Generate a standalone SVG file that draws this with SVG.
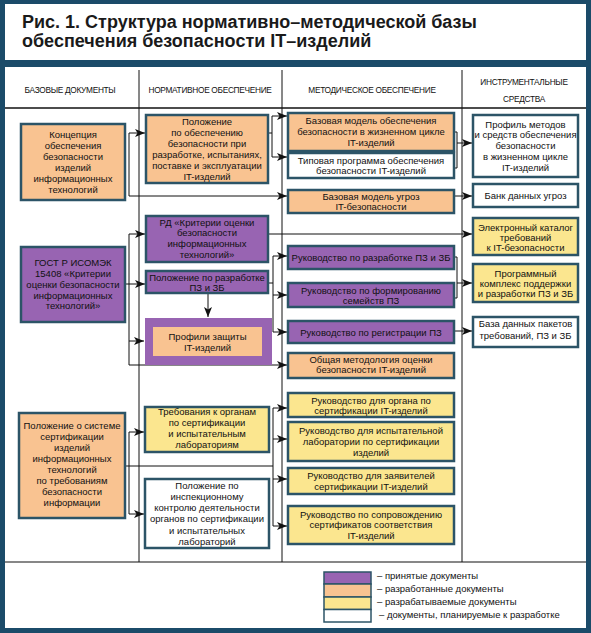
<svg xmlns="http://www.w3.org/2000/svg" width="591" height="633" viewBox="0 0 591 633">
<defs>
<style>
.frame{fill:#1b4b69}
.bg{fill:#ffffff}
.grid{stroke:#111;stroke-width:1;fill:none}
.hdr{font-family:"Liberation Sans",Arial,sans-serif;font-size:8.3px;fill:#111;text-anchor:middle;letter-spacing:-0.3px}
.title{font-family:"Liberation Sans",Arial,sans-serif;font-size:18px;font-weight:bold;fill:#1a1a1a}
.box{stroke:#2c5467;stroke-width:2.5}
.p{fill:#9864b2}
.o{fill:#f9c391}
.y{fill:#fbe68f}
.w{fill:#ffffff}
.t{font-family:"Liberation Sans",Arial,sans-serif;font-size:9.5px;fill:#111;text-anchor:middle}
.lg{font-family:"Liberation Sans",Arial,sans-serif;font-size:9.5px;fill:#111}
.lgbox{stroke:#2c5467;stroke-width:1.5}
.c{stroke:#111;stroke-width:1;fill:none}
.a{stroke:#111;stroke-width:1;fill:none;marker-end:url(#arr)}
</style>
<marker id="arr" markerUnits="userSpaceOnUse" markerWidth="10" markerHeight="8" refX="10" refY="4" orient="auto">
<path d="M0,0 L10,4 L0,8 L2.5,4 z" fill="#111"/>
</marker>
</defs>

<g id="frame">
<rect class="frame" x="0" y="0" width="591" height="633"/>
<rect class="bg" x="5" y="4" width="581" height="56"/>
<rect class="bg" x="5" y="67" width="581" height="561"/>
<text class="title" x="22" y="28">Рис. 1. Структура нормативно–методической базы</text>
<text class="title" x="22" y="47">обеспечения безопасности IT–изделий</text>
<line class="grid" x1="5" y1="108" x2="586" y2="108" style="stroke-width:1.5"/>
<line class="grid" x1="5" y1="562" x2="586" y2="562" style="stroke-width:1.2"/>
<line class="grid" x1="139" y1="70" x2="139" y2="562"/>
<line class="grid" x1="282" y1="70" x2="282" y2="562"/>
<line class="grid" x1="462" y1="70" x2="462" y2="562"/>
<text class="hdr" x="70" y="93">БАЗОВЫЕ ДОКУМЕНТЫ</text>
<text class="hdr" x="210" y="93">НОРМАТИВНОЕ ОБЕСПЕЧЕНИЕ</text>
<text class="hdr" x="372" y="93">МЕТОДИЧЕСКОЕ ОБЕСПЕЧЕНИЕ</text>
<text class="hdr" x="524" y="85">ИНСТРУМЕНТАЛЬНЫЕ</text>
<text class="hdr" x="524" y="102">СРЕДСТВА</text>
</g>

<g id="connectors">
<path class="a" d="M129,196 V133 H145"/>
<path class="a" d="M129,196 H287"/>
<path class="c" d="M268,133 H272"/>
<path class="a" d="M272,133 V116 H287"/>
<path class="a" d="M272,133 V157 H287"/>
<path class="c" d="M454,132 H457 V168 H454"/>
<path class="a" d="M457,143 H472"/>
<path class="a" d="M454,196 H472"/>
<path class="a" d="M268,234 H472"/>
<path class="a" d="M125,284 H145"/>
<path class="a" d="M129,284 V234 H145"/>
<path class="a" d="M129,284 V341 H144"/>
<path class="a" d="M129,341 V365 H287"/>
<path class="c" d="M268,283 H273"/>
<path class="a" d="M273,283 V256 H287"/>
<path class="a" d="M273,283 V295 H287"/>
<path class="a" d="M273,295 V332 H287"/>
<path class="c" d="M454,257 H457 V298 H454"/>
<path class="a" d="M457,283 H472"/>
<path class="a" d="M454,331 H472"/>
<path class="a" d="M208,294 V317"/>
<path class="c" d="M125,466 H273"/>
<path class="a" d="M129,466 V432 H144"/>
<path class="a" d="M129,466 V514 H144"/>
<path class="c" d="M273,408 V526"/>
<path class="a" d="M273,408 H287"/>
<path class="a" d="M273,439 H287"/>
<path class="a" d="M273,479 H287"/>
<path class="a" d="M273,526 H287"/>
</g>

<g id="n-koncepciya">
<rect class="box o" x="21" y="124" width="104" height="76"/>
<text class="t"><tspan x="73" y="137.5">Концепция</tspan><tspan x="73" y="148.6">обеспечения</tspan><tspan x="73" y="159.7">безопасности</tspan><tspan x="73" y="170.8">изделий</tspan><tspan x="73" y="181.9">информационных</tspan><tspan x="73" y="193">технологий</tspan></text>
</g>
<g id="n-gost">
<rect class="box p" x="21" y="247" width="104" height="75"/>
<text class="t"><tspan x="73" y="265.5">ГОСТ Р ИСОМЭК</tspan><tspan x="73" y="276.5">15408 «Критерии</tspan><tspan x="73" y="287.5">оценки безопасности</tspan><tspan x="73" y="298.5">информационных</tspan><tspan x="73" y="309">технологий»</tspan></text>
</g>
<g id="n-polozhenie-sistema">
<rect class="box o" x="19" y="413" width="106" height="105"/>
<text class="t"><tspan x="72" y="428.5">Положение о системе</tspan><tspan x="72" y="439.6">сертификации</tspan><tspan x="72" y="450.7">изделий</tspan><tspan x="72" y="461.8">информационных</tspan><tspan x="72" y="472.9">технологий</tspan><tspan x="72" y="484">по требованиям</tspan><tspan x="72" y="495.1">безопасности</tspan><tspan x="72" y="506.2">информации</tspan></text>
</g>

<g id="n-polozhenie-obesp">
<rect class="box o" x="146" y="115" width="122" height="68"/>
<text class="t"><tspan x="207" y="124.5">Положение</tspan><tspan x="207" y="135.5">по обеспечению</tspan><tspan x="207" y="146.5">безопасности при</tspan><tspan x="207" y="157.5">разработке, испытаниях,</tspan><tspan x="207" y="168.5">поставке и эксплуатации</tspan><tspan x="207" y="179.5">IT-изделий</tspan></text>
</g>
<g id="n-rd">
<rect class="box p" x="146" y="216" width="122" height="46"/>
<text class="t"><tspan x="207" y="225.5">РД «Критерии оценки</tspan><tspan x="207" y="236.2">безопасности</tspan><tspan x="207" y="246.9">информационных</tspan><tspan x="207" y="257.6">технологий»</tspan></text>
</g>
<g id="n-polozhenie-razr">
<rect class="box p" x="146" y="271" width="122" height="22"/>
<text class="t"><tspan x="207" y="281">Положение по разработке</tspan><tspan x="207" y="290.5">ПЗ и ЗБ</tspan></text>
</g>
<g id="n-profili">
<rect class="p" x="145" y="318" width="127" height="47"/>
<rect class="o" x="153" y="327" width="109" height="29"/>
<text class="t"><tspan x="207.5" y="339.5">Профили защиты</tspan><tspan x="207.5" y="350.5">IT-изделий</tspan></text>
</g>
<g id="n-trebovaniya">
<rect class="box y" x="145" y="407" width="124" height="45"/>
<text class="t"><tspan x="207" y="414.5">Требования к органам</tspan><tspan x="207" y="425.5">по сертификации</tspan><tspan x="207" y="436.5">и испытательным</tspan><tspan x="207" y="447.5">лабораториям</tspan></text>
</g>
<g id="n-polozhenie-insp">
<rect class="box w" x="145" y="479" width="124" height="69"/>
<text class="t"><tspan x="207" y="488.5">Положение по</tspan><tspan x="207" y="499.8">инспекционному</tspan><tspan x="207" y="511.1">контролю деятельности</tspan><tspan x="207" y="522.4">органов по сертификации</tspan><tspan x="207" y="533.7">и испытательных</tspan><tspan x="207" y="545">лабораторий</tspan></text>
</g>

<g id="m-bazovaya-model">
<rect class="box o" x="288" y="113" width="166" height="38"/>
<text class="t"><tspan x="371" y="123.5">Базовая модель обеспечения</tspan><tspan x="371" y="134.5">безопасности в жизненном цикле</tspan><tspan x="371" y="145.5">IT-изделий</tspan></text>
</g>
<g id="m-tipovaya">
<rect class="box w" x="288" y="153" width="166" height="25"/>
<text class="t"><tspan x="371" y="164">Типовая программа обеспечения</tspan><tspan x="371" y="174.2">безопасности IT-изделий</tspan></text>
</g>
<g id="m-ugroz">
<rect class="box o" x="288" y="190" width="166" height="23"/>
<text class="t"><tspan x="371" y="199.5">Базовая модель угроз</tspan><tspan x="371" y="210">IT-безопасности</tspan></text>
</g>
<g id="m-ruk-razr">
<rect class="box p" x="288" y="246" width="166" height="23"/>
<text class="t" x="371" y="260.5">Руководство по разработке ПЗ и ЗБ</text>
</g>
<g id="m-ruk-form">
<rect class="box p" x="288" y="283" width="166" height="24"/>
<text class="t"><tspan x="371" y="293.5">Руководство по формированию</tspan><tspan x="371" y="304">семейств ПЗ</tspan></text>
</g>
<g id="m-ruk-reg">
<rect class="box p" x="288" y="321" width="166" height="22"/>
<text class="t" x="371" y="335.5">Руководство по регистрации ПЗ</text>
</g>
<g id="m-obshaya">
<rect class="box o" x="288" y="353" width="166" height="25"/>
<text class="t"><tspan x="371" y="362.5">Общая методология оценки</tspan><tspan x="371" y="372.7">безопасности IT-изделий</tspan></text>
</g>
<g id="m-ruk-organ">
<rect class="box y" x="288" y="393" width="166" height="24"/>
<text class="t"><tspan x="371" y="403.5">Руководство для органа по</tspan><tspan x="371" y="413.5">сертификации IT-изделий</tspan></text>
</g>
<g id="m-ruk-lab">
<rect class="box y" x="288" y="422" width="166" height="39"/>
<text class="t"><tspan x="371" y="433.5">Руководство для испытательной</tspan><tspan x="371" y="444.5">лаборатории по сертификации</tspan><tspan x="371" y="455.5">изделий</tspan></text>
</g>
<g id="m-ruk-zayav">
<rect class="box y" x="288" y="468" width="166" height="26"/>
<text class="t"><tspan x="371" y="478.5">Руководство для заявителей</tspan><tspan x="371" y="489.5">сертификации IT-изделий</tspan></text>
</g>
<g id="m-ruk-sopr">
<rect class="box y" x="288" y="506" width="166" height="38"/>
<text class="t"><tspan x="371" y="517.5">Руководство по сопровождению</tspan><tspan x="371" y="528.3">сертификатов соответствия</tspan><tspan x="371" y="539">IT-изделий</tspan></text>
</g>

<g id="t-profil">
<rect class="box w" x="473" y="115" width="105" height="62"/>
<text class="t"><tspan x="525.5" y="127.5">Профиль методов</tspan><tspan x="525.5" y="138">и средств обеспечения</tspan><tspan x="525.5" y="148.5">безопасности</tspan><tspan x="525.5" y="159.5">в жизненном цикле</tspan><tspan x="525.5" y="170.5">IT-изделий</tspan></text>
</g>
<g id="t-bank">
<rect class="box w" x="473" y="184" width="105" height="23"/>
<text class="t" x="525.5" y="198.5">Банк данных угроз</text>
</g>
<g id="t-katalog">
<rect class="box y" x="473" y="218" width="105" height="37"/>
<text class="t"><tspan x="525.5" y="230.5">Электронный каталог</tspan><tspan x="525.5" y="240.5">требований</tspan><tspan x="525.5" y="250.5">к IT-безопасности</tspan></text>
</g>
<g id="t-kompleks">
<rect class="box y" x="473" y="264" width="105" height="38"/>
<text class="t"><tspan x="525.5" y="276.5">Программный</tspan><tspan x="525.5" y="286.5">комплекс поддержки</tspan><tspan x="525.5" y="296.5">и разработки ПЗ и ЗБ</tspan></text>
</g>
<g id="t-baza">
<rect class="box w" x="473" y="317" width="105" height="30"/>
<text class="t"><tspan x="525.5" y="326.5">База данных пакетов</tspan><tspan x="525.5" y="338.5">требований, ПЗ и ЗБ</tspan></text>
</g>

<g id="legend">
<rect class="lgbox p" x="324" y="572" width="47" height="12"/>
<rect class="lgbox o" x="324" y="584" width="47" height="13"/>
<rect class="lgbox y" x="324" y="597" width="47" height="12.5"/>
<rect class="lgbox w" x="324" y="609.5" width="47" height="12.5"/>
<text class="lg" x="377" y="578.5">– принятые документы</text>
<text class="lg" x="377" y="591.5">– разработанные документы</text>
<text class="lg" x="377" y="605">– разрабатываемые документы</text>
<text class="lg" x="379" y="617.5">– документы, планируемые к разработке</text>
</g>
</svg>
